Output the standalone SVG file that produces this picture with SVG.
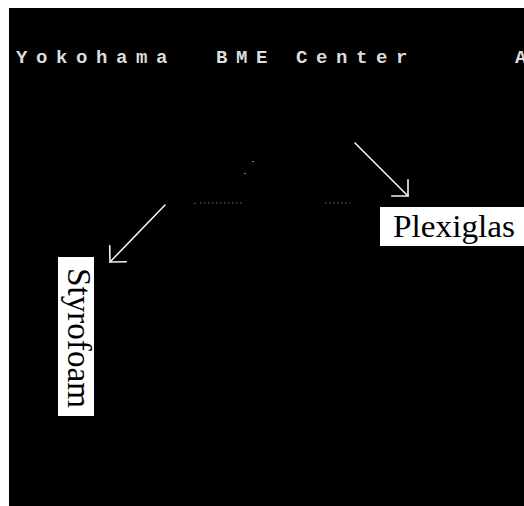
<svg xmlns="http://www.w3.org/2000/svg" width="524" height="506" viewBox="0 0 524 506">
  <defs>
    <style>
      .hdr { font-family: "Liberation Mono", "DejaVu Sans Mono", monospace; font-size: 19px; font-weight: bold; letter-spacing: 8.6px; fill: #dcdcdc; }
      .lbl { font-family: "Liberation Serif", "Times New Roman", serif; fill: #000; }
      .box { fill: #fff; }
      .conn { stroke: #f2f2f2; stroke-width: 1.6; fill: none; stroke-linecap: round; }
      .speck { stroke: #6e6e6e; stroke-width: 1; stroke-dasharray: 1.5 2.5; fill: none; }
    </style>
    <marker id="openV" markerUnits="userSpaceOnUse" markerWidth="30" markerHeight="30" viewBox="-15 -15 30 30" refX="0" refY="0" orient="auto">
      <path d="M -11.5 -11.5 L 0 0 L -11.5 11.5" fill="none" stroke="#f2f2f2" stroke-width="1.6" stroke-linecap="round" stroke-linejoin="miter"/>
    </marker>
  </defs>

  <rect x="0" y="0" width="524" height="506" fill="#fff"/>
  <rect id="screen" x="9" y="8" width="515" height="498" fill="#000"/>

  <g id="header">
    <text class="hdr" x="16" y="63">Yokohama</text>
    <text class="hdr" x="216" y="63">BME</text>
    <text class="hdr" x="296" y="63">Center</text>
    <text class="hdr" x="515" y="63">A</text>
  </g>

  <g id="image-traces">
    <line class="speck" x1="200" y1="203" x2="243" y2="203"/>
    <line class="speck" x1="325" y1="203" x2="350" y2="203"/>
    <rect x="252" y="161" width="2" height="1" fill="#777"/>
    <rect x="244" y="173" width="2" height="1" fill="#777"/>
    <rect x="194" y="203" width="1.5" height="1" fill="#777"/>
  </g>

  <g id="connectors">
    <line class="conn" x1="355" y1="143" x2="408" y2="196" marker-end="url(#openV)"/>
    <line class="conn" x1="165" y1="205" x2="110" y2="262" marker-end="url(#openV)"/>
  </g>

  <g id="plexiglas">
    <rect class="box" x="380" y="207" width="144" height="39"/>
    <text class="lbl" x="393" y="237" font-size="32" textLength="122" lengthAdjust="spacingAndGlyphs">Plexiglas</text>
  </g>

  <g id="styrofoam">
    <rect class="box" x="58" y="257" width="36" height="159"/>
    <text class="lbl" transform="translate(68,268) rotate(90)" x="0" y="0" font-size="34" textLength="140" lengthAdjust="spacingAndGlyphs">Styrofoam</text>
  </g>
</svg>
